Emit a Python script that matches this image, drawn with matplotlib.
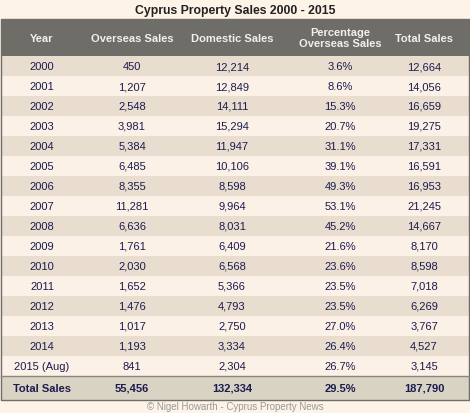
import matplotlib
matplotlib.use("Agg")
import matplotlib.pyplot as plt
from matplotlib.patches import Rectangle

plt.rcParams["font.family"] = ["Liberation Sans", "DejaVu Sans"]

TITLE = "Cyprus Property Sales 2000 - 2015"
HEADERS = ["Year", "Overseas Sales", "Domestic Sales", "Percentage\nOverseas Sales", "Total Sales"]
YEARS = ["2000", "2001", "2002", "2003", "2004", "2005", "2006", "2007", "2008",
         "2009", "2010", "2011", "2012", "2013", "2014", "2015 (Aug)"]
OVERSEAS = ["450", "1,207", "2,548", "3,981", "5,384", "6,485", "8,355", "11,281", "6,636",
            "1,761", "2,030", "1,652", "1,476", "1,017", "1,193", "841"]
DOMESTIC = ["12,214", "12,849", "14,111", "15,294", "11,947", "10,106", "8,598", "9,964", "8,031",
            "6,409", "6,568", "5,366", "4,793", "2,750", "3,334", "2,304"]
PCT = ["3.6%", "8.6%", "15.3%", "20.7%", "31.1%", "39.1%", "49.3%", "53.1%", "45.2%",
       "21.6%", "23.6%", "23.5%", "23.5%", "27.0%", "26.4%", "26.7%"]
TOTAL = ["12,664", "14,056", "16,659", "19,275", "17,331", "16,591", "16,953", "21,245", "14,667",
         "8,170", "8,598", "7,018", "6,269", "3,767", "4,527", "3,145"]
TOTALS_ROW = ["Total Sales", "55,456", "132,334", "29.5%", "187,790"]
FOOTER = "\u00a9 Nigel Howarth - Cyprus Property News"

W, H = 470, 414
fig = plt.figure(figsize=(W / 100, H / 100), dpi=100)
fig.patch.set_facecolor("#FDF3E7")
ax = fig.add_axes([0, 0, 1, 1])
ax.set_xlim(0, W)
ax.set_ylim(H, 0)
ax.axis("off")

col_x = [42, 132, 232, 340, 424]
navy = "#1C1C4E"
left, right = 1, 469
top_h, bot_h = 20, 57
row_h = 20
fs = 8

ax.text(W / 2, 11, TITLE, ha="center", va="center", fontsize=8.8, fontweight="bold", color="#222222")
ax.add_patch(Rectangle((left, top_h), right - left, bot_h - top_h, color="#6F6D68", lw=0))
for x, h in zip(col_x, HEADERS):
    ax.text(x, (top_h + bot_h) / 2, h, ha="center", va="center", fontsize=fs,
            fontweight="bold", color="#F2F0EA", linespacing=1.1)

for i, row in enumerate(zip(YEARS, OVERSEAS, DOMESTIC, PCT, TOTAL)):
    y0 = bot_h + i * row_h
    ax.add_patch(Rectangle((left, y0), right - left, row_h,
                           color="#E8DDCF" if i % 2 == 0 else "#FBF1E6", lw=0))
    for x, v in zip(col_x, row):
        ax.text(x, y0 + row_h / 2, v, ha="center", va="center", fontsize=fs, color=navy)

y0 = bot_h + len(YEARS) * row_h
ax.add_patch(Rectangle((left, y0), right - left, 24, color="#D9D3C3", lw=0))
ax.plot([left, right], [y0, y0], color="#8A8680", lw=1)
for x, v in zip(col_x, TOTALS_ROW):
    ax.text(x, y0 + 12, v, ha="center", va="center", fontsize=fs, fontweight="bold", color=navy)
ax.add_patch(Rectangle((left, top_h), right - left, y0 + 24 - top_h, fill=False,
                       edgecolor="#6F6D68", lw=1))
ax.text(W / 2, 407, FOOTER, ha="center", va="center", fontsize=7, color="#999999")

fig.savefig("out.png", dpi=100, facecolor=fig.get_facecolor())
